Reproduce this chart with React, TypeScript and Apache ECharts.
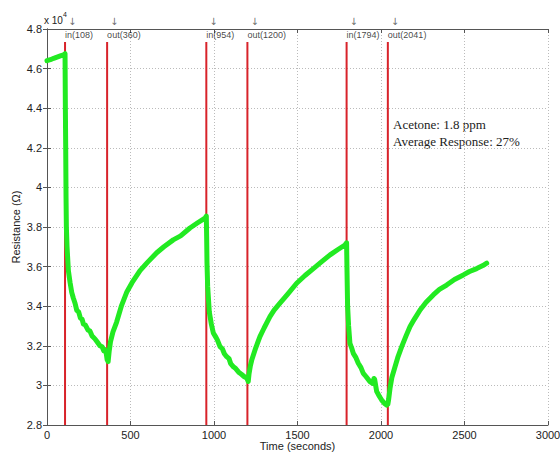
import React, { useEffect, useRef } from "react";
import * as echarts from "echarts";

const timeSec: number[] = [
  0, 20, 40, 60, 80, 100, 108,
  110, 112, 114, 116, 120, 128, 138, 148, 158, 168, 178, 190, 200, 210, 218, 230, 245, 257, 270, 287, 300, 317, 330, 340, 347, 355, 360, 366,
  372, 380, 395, 417, 445, 477, 510, 557, 600, 657, 700, 756, 800, 856, 900, 946, 954,
  956, 958, 962, 972, 984, 996, 1010, 1020, 1036, 1050, 1062, 1076, 1090, 1100, 1116, 1130, 1150, 1166, 1180, 1196, 1205,
  1210, 1218, 1226, 1250, 1275, 1300, 1335, 1360, 1395, 1440, 1495, 1545, 1595, 1645, 1695, 1740, 1784, 1794,
  1796, 1800, 1806, 1814, 1824, 1834, 1850, 1864, 1880, 1894, 1910, 1934, 1950, 1958, 1962, 1974, 1990, 2004, 2020, 2034, 2041,
  2046, 2054, 2065, 2084, 2100, 2124, 2150, 2174, 2200, 2234, 2270, 2313, 2350, 2393, 2440, 2493, 2530, 2573, 2610, 2633,
];

const resistance: number[] = [
  4.64, 4.645, 4.652, 4.658, 4.664, 4.67, 4.675,
  4.4, 4.2, 3.95, 3.8, 3.7, 3.58, 3.52, 3.47, 3.44, 3.415, 3.38, 3.37, 3.34, 3.335, 3.31, 3.305, 3.28, 3.275, 3.25, 3.235, 3.22, 3.2, 3.195, 3.175, 3.18, 3.16, 3.13, 3.12,
  3.17, 3.22, 3.27, 3.32, 3.4, 3.47, 3.52, 3.58, 3.62, 3.67, 3.7, 3.735, 3.755, 3.795, 3.82, 3.845, 3.855,
  3.75, 3.62, 3.5, 3.37, 3.31, 3.265, 3.245, 3.23, 3.196, 3.185, 3.16, 3.145, 3.135, 3.11, 3.094, 3.085, 3.065, 3.055, 3.045, 3.037, 3.02,
  3.06, 3.1, 3.128, 3.19, 3.246, 3.29, 3.347, 3.38, 3.415, 3.46, 3.516, 3.555, 3.59, 3.625, 3.659, 3.685, 3.709, 3.72,
  3.6, 3.4, 3.3, 3.212, 3.19, 3.162, 3.14, 3.112, 3.09, 3.061, 3.045, 3.019, 3.01, 3.035, 3.03, 2.97, 2.945, 2.926, 2.91, 2.9, 2.905,
  2.93, 2.985, 3.04, 3.094, 3.14, 3.196, 3.25, 3.297, 3.335, 3.381, 3.42, 3.457, 3.485, 3.507, 3.535, 3.558, 3.575, 3.59, 3.605, 3.617,
];

const eventTimes: number[] = [108, 360, 954, 1200, 1794, 2041];
const eventLabels: string[] = ["in(108)", "out(360)", "in(954)", "out(1200)", "in(1794)", "out(2041)"];
const xTicks = { min: 0, max: 3000, interval: 500 };
const yTicks = { min: 2.8, max: 4.8, interval: 0.2 };
const redLineTop = 4.734;
const labelLevel = 4.772;
const arrowLevel = 4.84;

const FONT = "'Liberation Sans', Arial, sans-serif";

export default function App() {
  const ref = useRef<HTMLDivElement>(null);
  useEffect(() => {
    document.body.style.margin = "0";
    const chart = echarts.init(ref.current!, null, { renderer: "svg" });
    const curve = timeSec.map((t, i) => [t, resistance[i]]);
    const redSeries = eventTimes.map((t) => ({
      type: "line",
      data: [
        [t, yTicks.min],
        [t, redLineTop],
      ],
      symbol: "none",
      lineStyle: { color: "#d8232a", width: 2 },
      z: 3,
      silent: true,
    }));
    const axisCommon = {
      type: "value",
      axisLine: { show: true, lineStyle: { color: "#555", width: 1 } },
      axisTick: { show: true, inside: true, length: 4, lineStyle: { color: "#555" } },
    };
    chart.setOption({
      animation: false,
      grid: {
        left: 47,
        right: 12,
        top: 29,
        bottom: 29,
        show: false,
        containLabel: false,
        outerBoundsMode: "none",
      },
      xAxis: [
        {
          ...axisCommon,
          ...xTicks,
          position: "bottom",
          name: "Time (seconds)",
          nameLocation: "middle",
          nameGap: 15,
          nameMoveOverlap: false,
          nameTextStyle: { fontFamily: FONT, fontSize: 11, color: "#222" },
          axisLabel: {
            fontFamily: FONT,
            fontSize: 11,
            color: "#222",
            margin: 4,
            formatter: (v: number) => String(v),
          },
          splitLine: { show: true, lineStyle: { color: "#bbb", type: [1, 2], width: 1 } },
        },
        {
          ...axisCommon,
          ...xTicks,
          position: "top",
          axisLabel: { show: false },
          splitLine: { show: false },
        },
      ],
      yAxis: [
        {
          ...axisCommon,
          ...yTicks,
          position: "left",
          name: "Resistance (Ω)",
          nameLocation: "middle",
          nameGap: 26,
          nameMoveOverlap: false,
          nameTextStyle: { fontFamily: FONT, fontSize: 11, color: "#222" },
          axisLabel: {
            fontFamily: FONT,
            fontSize: 11,
            color: "#222",
            margin: 5,
            formatter: (v: number) => String(+v.toFixed(1)),
          },
          splitLine: { show: true, lineStyle: { color: "#bbb", type: [1, 2], width: 1 } },
        },
        {
          ...axisCommon,
          ...yTicks,
          position: "right",
          axisLabel: { show: false },
          splitLine: { show: false },
        },
      ],
      series: [
        {
          type: "line",
          data: curve,
          symbol: "none",
          lineStyle: { color: "#22ea22", width: 5, join: "round", cap: "round" },
          z: 4,
          silent: true,
        },
        ...redSeries,
        {
          type: "scatter",
          data: eventTimes.map((t, i) => [t, labelLevel, eventLabels[i]]),
          symbolSize: 0,
          clip: false,
          silent: true,
          label: {
            show: true,
            position: "right",
            distance: 0,
            formatter: (p: any) => p.data[2],
            fontFamily: FONT,
            fontSize: 9,
            color: "#111",
          },
        },
        {
          type: "scatter",
          data: eventTimes.map((t) => [t, arrowLevel]),
          symbolSize: 0,
          clip: false,
          silent: true,
          label: {
            show: true,
            position: "right",
            distance: 3,
            formatter: "↓",
            fontFamily: "'DejaVu Sans', sans-serif",
            fontSize: 10,
            color: "#444",
          },
        },
      ],
      graphic: [
        {
          type: "text",
          left: 44,
          top: 15,
          style: { text: "x 10", font: `10px ${FONT}`, fill: "#222" },
        },
        {
          type: "text",
          left: 63,
          top: 11,
          style: { text: "4", font: `7px ${FONT}`, fill: "#222" },
        },
        {
          type: "text",
          left: 393,
          top: 116,
          style: {
            text: "Acetone: 1.8 ppm\nAverage Response: 27%",
            font: `13px 'Liberation Serif', 'Times New Roman', serif`,
            lineHeight: 17,
            fill: "#222",
          },
        },
      ],
    });
    return () => chart.dispose();
  }, []);
  return <div ref={ref} style={{ width: 560, height: 454 }} />;
}
